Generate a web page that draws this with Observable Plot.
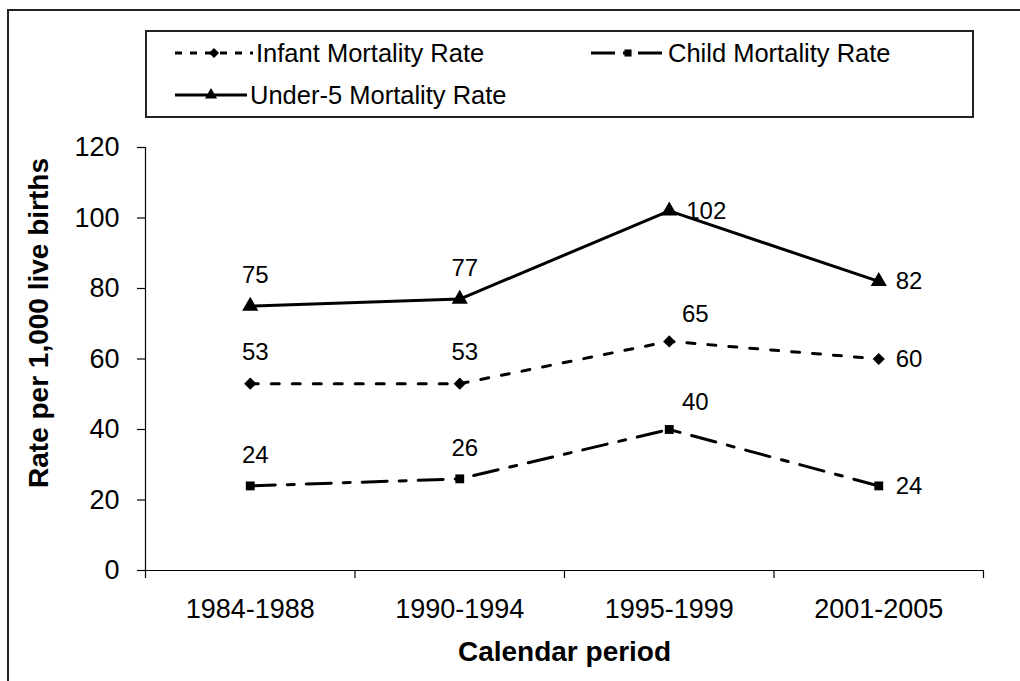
<!DOCTYPE html>
<html>
<head>
<meta charset="utf-8">
<script src="https://cdn.jsdelivr.net/npm/d3@7"></script>
<script src="https://cdn.jsdelivr.net/npm/@observablehq/plot@0.6"></script>
<style>
  html, body { margin: 0; padding: 0; background: #fff; overflow: hidden; }
  #page { position: relative; width: 1020px; height: 681px; font-family: "Liberation Sans", Arial, sans-serif; }
  #frame { position: absolute; left: 7px; top: 9px; width: 1100px; height: 800px; border: 2.5px solid #222; box-sizing: border-box; }
  #chart { position: absolute; left: 0; top: 0; }
  #legend { position: absolute; left: 145px; top: 30px; width: 829px; height: 88px; border: 2px solid #222; box-sizing: border-box; background: #fff; }
  .item { position: absolute; display: flex; align-items: center; font-size: 25.5px; color: #000; white-space: nowrap; height: 30px; }
  .item svg { margin-right: 3px; }
</style>
</head>
<body>
<div id="page">
  <div id="frame"></div>
  <div id="chart"></div>
  <div id="legend"></div>
</div>
<script>
// ---- data ----
const periods = ["1984-1988", "1990-1994", "1995-1999", "2001-2005"];
const infantRate = [53, 53, 65, 60];
const childRate = [24, 26, 40, 24];
const under5Rate = [75, 77, 102, 82];
const seriesNames = ["Infant Mortality Rate", "Child Mortality Rate", "Under-5 Mortality Rate"];
const yTicks = [0, 20, 40, 60, 80, 100, 120];
// label placement per series (above / right / aboveRight)
const infantLabelPos = ["above", "above", "aboveRight", "right"];
const childLabelPos = ["above", "above", "aboveRight", "right"];
const under5LabelPos = ["above", "above", "right", "right"];

// ---- styles ----
const styles = {
  "Infant Mortality Rate": { dash: "8,13", symbol: "diamond2", r: 5.5 },
  "Child Mortality Rate": { dash: "25,12,7,12", symbol: "square", r: 5 },
  "Under-5 Mortality Rate": { dash: null, symbol: "triangle", r: 6 }
};
const legendStyles = {
  "Infant Mortality Rate": { dash: "7,8", r: 4.5 },
  "Child Mortality Rate": { dash: "24,8,7,8", r: 4 },
  "Under-5 Mortality Rate": { dash: null, r: 4.5 }
};

const valuesBySeries = [infantRate, childRate, under5Rate];
const posBySeries = [infantLabelPos, childLabelPos, under5LabelPos];
const rows = [];
seriesNames.forEach((s, si) => {
  periods.forEach((p, i) => {
    rows.push({ series: s, i, period: p, value: valuesBySeries[si][i], pos: posBySeries[si][i] });
  });
});

const boundaries = d3.range(periods.length + 1).map(k => k - 0.5);
const font = "Liberation Sans, Arial, sans-serif";

const marks = [
  Plot.ruleX([-0.5], { y1: 0, y2: 120, stroke: "#000", strokeWidth: 1.2 }),
  Plot.ruleY([0], { x1: -0.5, x2: periods.length - 0.5, stroke: "#000", strokeWidth: 1.2 }),
  Plot.axisY({ ticks: yTicks, tickSize: 8, tickPadding: 18, fontSize: 27, label: null, stroke: "#000", strokeWidth: 1.2 }),
  Plot.axisX({ ticks: boundaries, tickSize: 8, tickFormat: () => "", label: null, stroke: "#000", strokeWidth: 1.2 }),
  Plot.axisX({ ticks: d3.range(periods.length), tickSize: 0, tickPadding: 28, fontSize: 27, tickFormat: i => periods[i], label: null })
];

seriesNames.forEach(s => {
  const data = rows.filter(d => d.series === s);
  const st = styles[s];
  marks.push(Plot.line(data, { x: "i", y: "value", stroke: "#000", strokeWidth: 3, strokeDasharray: st.dash || undefined }));
  marks.push(Plot.dot(data, { x: "i", y: "value", symbol: () => st.symbol, r: st.r, fill: "#000", stroke: "none" }));
});

const above = rows.filter(d => d.pos === "above");
const right = rows.filter(d => d.pos === "right");
const aboveRight = rows.filter(d => d.pos === "aboveRight");
const labelFont = 24;
marks.push(Plot.text(above, { x: "i", y: "value", text: d => String(d.value), dx: 5, dy: -31, fontSize: labelFont, fill: "#000" }));
marks.push(Plot.text(right, { x: "i", y: "value", text: d => String(d.value), dx: 17, textAnchor: "start", fontSize: labelFont, fill: "#000" }));
marks.push(Plot.text(aboveRight, { x: "i", y: "value", text: d => String(d.value), dx: 26, dy: -27, fontSize: labelFont, fill: "#000" }));

marks.push(Plot.text(["Rate per 1,000 live births"], { frameAnchor: "left", textAnchor: "middle", lineAnchor: "middle", rotate: -90, dx: -106, dy: -36, fontSize: 28, fontWeight: "bold", fill: "#000" }));
marks.push(Plot.text(["Calendar period"], { frameAnchor: "bottom", textAnchor: "middle", dy: 90, fontSize: 28, fontWeight: "bold", fill: "#000" }));

const chart = Plot.plot({
  width: 1020,
  height: 681,
  marginLeft: 145,
  marginRight: 37,
  marginTop: 147,
  marginBottom: 111,
  style: { fontFamily: font, fontSize: "20px", color: "#000", background: "transparent" },
  x: { type: "linear", domain: [-0.5, periods.length - 0.5], axis: null },
  y: { domain: [0, 120], axis: null },
  marks
});
document.getElementById("chart").appendChild(chart);

// ---- legend ----
const legend = document.getElementById("legend");
const legendPos = {
  "Infant Mortality Rate": { left: 28, top: 6, w: 78 },
  "Child Mortality Rate": { left: 444, top: 6, w: 74 },
  "Under-5 Mortality Rate": { left: 28, top: 48, w: 72 }
};
seriesNames.forEach(s => {
  const st = styles[s];
  const ls = legendStyles[s];
  const div = document.createElement("div");
  div.className = "item";
  div.style.left = legendPos[s].left + "px";
  div.style.top = legendPos[s].top + "px";
  const w = legendPos[s].w, h = 20, cx = w / 2, cy = h / 2;
  const ns = "http://www.w3.org/2000/svg";
  const svg = document.createElementNS(ns, "svg");
  svg.setAttribute("width", w);
  svg.setAttribute("height", h);
  const line = document.createElementNS(ns, "line");
  line.setAttribute("x1", 0); line.setAttribute("x2", w);
  line.setAttribute("y1", cy); line.setAttribute("y2", cy);
  line.setAttribute("stroke", "#000");
  line.setAttribute("stroke-width", 3);
  if (ls.dash) line.setAttribute("stroke-dasharray", ls.dash);
  svg.appendChild(line);
  const sym = document.createElementNS(ns, "path");
  const symType = { diamond2: d3.symbolDiamond2, square: d3.symbolSquare, triangle: d3.symbolTriangle }[st.symbol];
  sym.setAttribute("d", d3.symbol(symType, Math.PI * ls.r * ls.r)());
  sym.setAttribute("transform", `translate(${cx},${cy})`);
  sym.setAttribute("fill", "#000");
  svg.appendChild(sym);
  div.appendChild(svg);
  const span = document.createElement("span");
  span.textContent = s;
  div.appendChild(span);
  legend.appendChild(div);
});
</script>
</body>
</html>
